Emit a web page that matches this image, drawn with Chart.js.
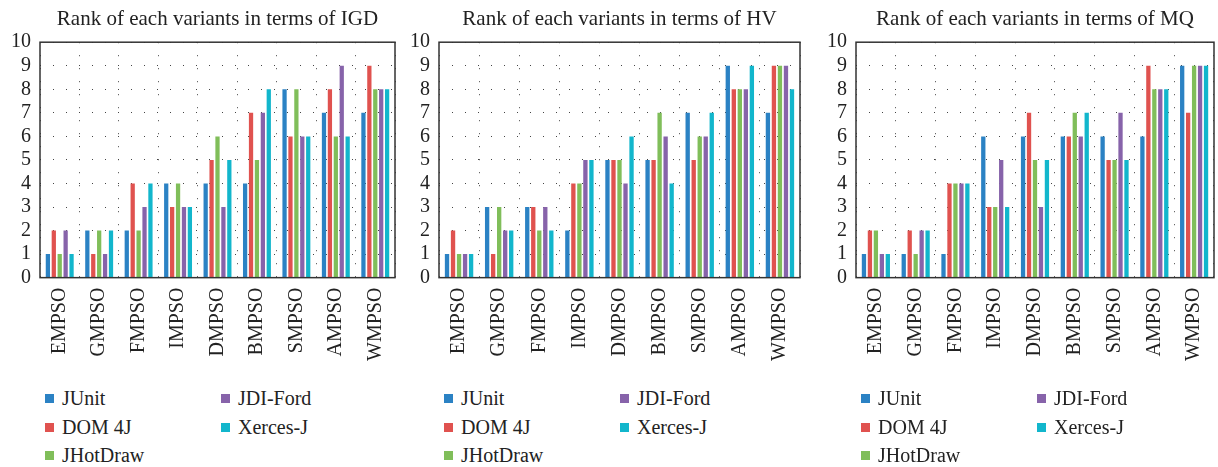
<!DOCTYPE html>
<html>
<head>
<meta charset="utf-8">
<script src="https://cdn.jsdelivr.net/npm/chart.js@4.4.1/dist/chart.umd.min.js"></script>
<style>
  body { margin: 0; background: #fff; width: 1218px; height: 467px; position: relative; overflow: hidden; font-family: 'Liberation Serif', serif; }
  .panel { position: absolute; top: 0; height: 371px; }
  .legend { position: absolute; top: 388px; height: 79px; }
  .item { position: absolute; font-size: 20px; color: #222; line-height: 20px; white-space: nowrap; }
  .item span { position: absolute; left: 0; top: 6px; width: 9px; height: 9px; }
  .item b { font-weight: normal; position: absolute; left: 17px; top: 0; }
</style>
</head>
<body>
<div class="panel" style="left:11px;width:413px"><canvas id="igd" width="413" height="371"></canvas></div>
<div class="panel" style="left:410px;width:419px"><canvas id="hv" width="419" height="371"></canvas></div>
<div class="panel" style="left:827px;width:416px"><canvas id="mq" width="416" height="371"></canvas></div>
<div class="legend" id="leg-igd" style="left:40px;width:360px"></div>
<div class="legend" id="leg-hv" style="left:439px;width:360px"></div>
<div class="legend" id="leg-mq" style="left:856px;width:360px"></div>
<script>
const categories = ['EMPSO', 'GMPSO', 'FMPSO', 'IMPSO', 'DMPSO', 'BMPSO', 'SMPSO', 'AMPSO', 'WMPSO'];
const seriesNames = ['JUnit', 'DOM 4J', 'JHotDraw', 'JDI-Ford', 'Xerces-J'];
const seriesColors = ['#2b82c4', '#e0524f', '#80be5a', '#8763aa', '#12b6cc'];
const yTicks = [0, 1, 2, 3, 4, 5, 6, 7, 8, 9, 10];

// ranks per series (rows follow seriesNames order)
const igdRanks = [
  [1, 2, 2, 4, 4, 4, 8, 7, 7],
  [2, 1, 4, 3, 5, 7, 6, 8, 9],
  [1, 2, 2, 4, 6, 5, 8, 6, 8],
  [2, 1, 3, 3, 3, 7, 6, 9, 8],
  [1, 2, 4, 3, 5, 8, 6, 6, 8]
];
const hvRanks = [
  [1, 3, 3, 2, 5, 5, 7, 9, 7],
  [2, 1, 3, 4, 5, 5, 5, 8, 9],
  [1, 3, 2, 4, 5, 7, 6, 8, 9],
  [1, 2, 3, 5, 4, 6, 6, 8, 9],
  [1, 2, 2, 5, 6, 4, 7, 9, 8]
];
const mqRanks = [
  [1, 1, 1, 6, 6, 6, 6, 6, 9],
  [2, 2, 4, 3, 7, 6, 5, 9, 7],
  [2, 1, 4, 3, 5, 7, 5, 8, 9],
  [1, 2, 4, 5, 3, 6, 7, 8, 9],
  [1, 2, 4, 3, 5, 7, 5, 8, 9]
];

const AXIS_W = 29;

// frame round the plot area
const framePlugin = {
  id: 'frame',
  afterDraw(chart) {
    const a = chart.chartArea, ctx = chart.ctx;
    ctx.save();
    ctx.strokeStyle = '#333';
    ctx.lineWidth = 1.5;
    ctx.strokeRect(a.left, a.top, a.right - a.left, a.bottom - a.top);
    ctx.restore();
  }
};

function makeChart(id, title, ranks) {
  new Chart(document.getElementById(id), {
    type: 'bar',
    data: {
      labels: categories,
      datasets: seriesNames.map((name, i) => ({
        label: name,
        data: ranks[i],
        backgroundColor: seriesColors[i],
        categoryPercentage: 0.75,
        barPercentage: 0.72
      }))
    },
    options: {
      responsive: false,
      animation: false,
      devicePixelRatio: 1,
      layout: { padding: 0 },
      plugins: {
        legend: { display: false },
        tooltip: { enabled: false },
        title: {
          display: true,
          text: title,
          color: '#222',
          font: { family: 'Liberation Serif', size: 21, weight: 'normal' },
          padding: { top: 7, bottom: 10 }
        }
      },
      scales: {
        x: {
          grid: { color: '#444', lineWidth: 1, drawTicks: false },
          border: { display: false, dash: [1, 12] },
          ticks: {
            color: '#222',
            font: { family: 'Liberation Serif', size: 20 },
            minRotation: 90,
            maxRotation: 90,
            autoSkip: false,
            padding: 10
          }
        },
        y: {
          min: 0,
          max: 10,
          afterBuildTicks: axis => { axis.ticks = yTicks.map(v => ({ value: v })); },
          afterFit: axis => { axis.width = AXIS_W; },
          grid: { color: '#444', lineWidth: 1, drawTicks: false },
          border: { display: false, dash: [1, 12] },
          ticks: {
            color: '#222',
            font: { family: 'Liberation Serif', size: 20 },
            autoSkip: false,
            padding: 9
          }
        },
        // empty spacer on the right so the title centres on the plot
        yR: {
          position: 'right',
          min: 0,
          max: 10,
          grid: { display: false },
          border: { display: false },
          ticks: { display: false },
          afterFit: axis => { axis.width = AXIS_W; }
        }
      }
    },
    plugins: [framePlugin]
  });
}

function makeLegend(id) {
  const el = document.getElementById(id);
  const rows = 3;
  seriesNames.forEach((name, i) => {
    const col = Math.floor(i / rows), row = i % rows;
    const d = document.createElement('div');
    d.className = 'item';
    d.style.left = (5 + col * 176) + 'px';
    d.style.top = (row * 28.5) + 'px';
    d.innerHTML = '<span style="background:' + seriesColors[i] + '"></span><b>' + name + '</b>';
    el.appendChild(d);
  });
}

makeChart('igd', 'Rank of each variants in terms of IGD', igdRanks);
makeChart('hv', 'Rank of each variants in terms of HV', hvRanks);
makeChart('mq', 'Rank of each variants in terms of MQ', mqRanks);
makeLegend('leg-igd');
makeLegend('leg-hv');
makeLegend('leg-mq');
</script>
</body>
</html>
